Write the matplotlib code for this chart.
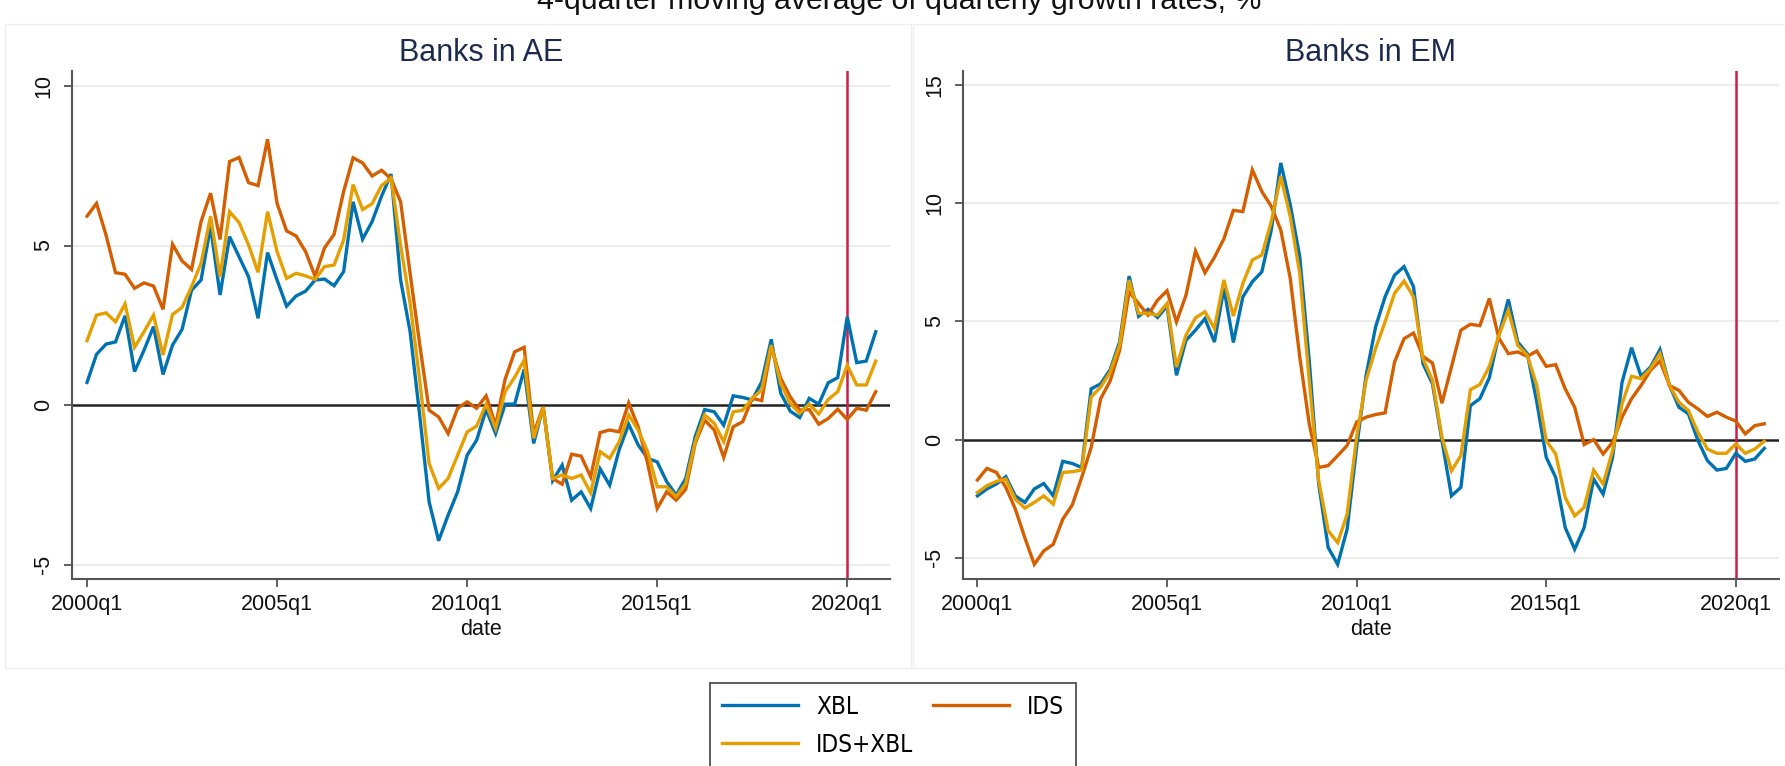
import numpy as np
import pandas as pd
import matplotlib
matplotlib.use("Agg")
import matplotlib.pyplot as plt
from matplotlib.lines import Line2D
from matplotlib.patches import Rectangle
from matplotlib.font_manager import FontProperties, fontManager

plt.rcParams["font.family"] = ["Liberation Sans", "DejaVu Sans"]

# ---------------------------------------------------------------- data
quarters = pd.period_range("2000Q1", "2020Q4", freq="Q")
quarter_names = [f"{p.year}q{p.quarter}" for p in quarters]
tick_labels = ["2000q1", "2005q1", "2010q1", "2015q1", "2020q1"]
marker_quarter = "2020q1"

series_names = ["XBL", "IDS", "IDS+XBL"]

# Banks in advanced economies (4-quarter moving average, %)
ae_xbl = [0.71, 1.59, 1.91, 1.98, 2.80, 1.05, 1.72, 2.46, 0.96, 1.88,
          2.37, 3.60, 3.92, 5.59, 3.45, 5.28, 4.65, 4.02, 2.72, 4.78,
          3.92, 3.10, 3.42, 3.57, 3.92, 3.95, 3.74, 4.18, 6.37, 5.20,
          5.75, 6.55, 7.24, 3.92, 2.30, -0.30, -3.03, -4.25, -3.45, -2.72,
          -1.57, -1.10, -0.14, -0.89, 0.03, 0.03, 1.12, -1.20, -0.05, -2.37,
          -1.88, -2.98, -2.72, -3.24, -2.00, -2.51, -1.40, -0.60, -1.25, -1.67,
          -1.78, -2.40, -2.82, -2.30, -0.99, -0.14, -0.21, -0.63, 0.29, 0.24,
          0.16, 0.73, 2.06, 0.37, -0.19, -0.39, 0.21, 0.03, 0.70, 0.86,
          2.77, 1.33, 1.38, 2.30]
ae_ids = [5.92, 6.32, 5.33, 4.15, 4.10, 3.66, 3.83, 3.73, 3.00, 5.04,
          4.52, 4.25, 5.75, 6.64, 5.19, 7.63, 7.76, 6.97, 6.88, 8.33,
          6.32, 5.46, 5.30, 4.81, 4.04, 4.93, 5.35, 6.69, 7.75, 7.59,
          7.18, 7.36, 7.09, 6.37, 4.13, 1.93, -0.16, -0.37, -0.89, -0.10,
          0.10, -0.10, 0.29, -0.63, 0.81, 1.67, 1.81, -0.89, -0.05, -2.30,
          -2.48, -1.54, -1.60, -2.25, -0.86, -0.78, -0.84, 0.07, -0.68, -1.83,
          -3.24, -2.72, -2.98, -2.64, -1.20, -0.47, -0.78, -1.64, -0.68, -0.52,
          0.21, 0.14, 1.83, 0.84, 0.26, -0.16, -0.14, -0.60, -0.42, -0.13,
          -0.45, -0.10, -0.16, 0.42]
ae_total = [2.02, 2.82, 2.89, 2.61, 3.17, 1.81, 2.30, 2.82, 1.57, 2.84,
            3.06, 3.71, 4.44, 5.92, 4.02, 6.06, 5.72, 5.02, 4.16, 6.06,
            4.81, 3.97, 4.13, 4.05, 3.94, 4.34, 4.39, 5.17, 6.91, 6.13,
            6.31, 6.88, 7.12, 5.00, 3.19, 0.80, -1.83, -2.61, -2.30, -1.57,
            -0.84, -0.66, 0.03, -0.73, 0.42, 0.87, 1.41, -1.04, -0.07, -2.30,
            -2.19, -2.30, -2.19, -2.75, -1.46, -1.67, -1.15, -0.31, -0.78, -1.46,
            -2.56, -2.56, -2.87, -2.46, -1.15, -0.31, -0.57, -1.15, -0.21, -0.16,
            0.21, 0.47, 1.88, 0.68, 0.05, -0.26, 0.03, -0.28, 0.18, 0.42,
            1.25, 0.63, 0.63, 1.38]

# Banks in emerging markets (4-quarter moving average, %)
em_xbl = [-2.38, -2.09, -1.88, -1.57, -2.38, -2.66, -2.09, -1.86, -2.38, -0.92,
          -1.01, -1.18, 2.15, 2.36, 2.96, 4.13, 6.92, 5.22, 5.51, 5.17,
          5.65, 2.72, 4.20, 4.63, 5.12, 4.13, 6.40, 4.11, 6.04, 6.68,
          7.10, 8.87, 11.71, 9.94, 7.74, 3.35, -1.88, -4.57, -5.28, -3.79,
          -0.33, 2.72, 4.77, 6.04, 6.96, 7.32, 6.47, 3.21, 2.36, -0.04,
          -2.38, -2.02, 1.44, 1.73, 2.62, 4.42, 5.93, 4.13, 3.64, 1.60,
          -0.75, -1.60, -3.72, -4.64, -3.72, -1.67, -2.31, -0.75, 2.43, 3.89,
          2.68, 3.07, 3.81, 2.29, 1.37, 1.09, -0.04, -0.89, -1.29, -1.22,
          -0.58, -0.92, -0.82, -0.37]
em_ids = [-1.71, -1.22, -1.39, -2.02, -2.94, -4.15, -5.28, -4.71, -4.43, -3.37,
          -2.77, -1.60, -0.33, 1.73, 2.48, 3.78, 6.25, 5.76, 5.27, 5.90,
          6.30, 4.98, 6.11, 7.98, 7.06, 7.71, 8.50, 9.70, 9.65, 11.42,
          10.50, 9.87, 8.87, 6.82, 3.50, 0.67, -1.18, -1.10, -0.68, -0.25,
          0.74, 0.95, 1.06, 1.13, 3.28, 4.27, 4.51, 3.52, 3.24, 1.54,
          3.07, 4.63, 4.88, 4.82, 5.97, 4.30, 3.64, 3.71, 3.52, 3.75,
          3.10, 3.17, 2.15, 1.37, -0.21, 0.00, -0.61, -0.11, 0.95, 1.73,
          2.29, 2.93, 3.33, 2.29, 2.08, 1.58, 1.30, 0.98, 1.16, 0.95,
          0.78, 0.24, 0.59, 0.67]
em_total = [-2.24, -1.95, -1.77, -1.67, -2.52, -2.90, -2.66, -2.38, -2.73, -1.39,
            -1.36, -1.29, 1.80, 2.22, 2.86, 3.99, 6.75, 5.34, 5.34, 5.27,
            5.76, 3.07, 4.42, 5.15, 5.41, 4.70, 6.76, 5.23, 6.61, 7.60,
            7.81, 9.23, 11.14, 9.44, 7.03, 2.51, -1.74, -3.86, -4.36, -3.16,
            0.10, 2.51, 3.85, 4.98, 6.19, 6.71, 6.04, 3.43, 2.51, 0.10,
            -1.32, -0.68, 2.11, 2.33, 3.10, 4.40, 5.48, 3.99, 3.57, 2.29,
            -0.04, -0.61, -2.45, -3.23, -2.87, -1.29, -1.88, -0.47, 1.52, 2.68,
            2.58, 3.00, 3.64, 2.29, 1.58, 1.23, 0.31, -0.40, -0.58, -0.58,
            -0.18, -0.58, -0.40, -0.07]

# ---------------------------------------------------------------- style
colors = {"XBL": "#0072B2", "IDS": "#D55E00", "IDS+XBL": "#E69F00"}
title_color = "#1c2a50"
axis_color = "#555555"
grid_color = "#ebebeb"
vline_color = "#cc1f48"

W, H = 1785, 766
fig = plt.figure(figsize=(W / 100, H / 100), dpi=100)
fig.patch.set_facecolor("white")


def px_box(x0, x1, top, bottom):
    return [x0 / W, 1 - bottom / H, (x1 - x0) / W, (bottom - top) / H]


# faint outlines of the two graph regions
for (rx0, rx1) in [(5, 911), (913, 1800)]:
    fig.patches.append(Rectangle((rx0 / W, 1 - 668 / H), (rx1 - rx0) / W,
                                 (668 - 24) / H, transform=fig.transFigure,
                                 fill=False, edgecolor="#eeeeee", lw=1.0))

t = np.arange(len(quarters))
pos = {name: i for i, name in enumerate(quarter_names)}

panels = [
    dict(title="Banks in AE", box=px_box(72, 890, 71, 579),
         xlim=(-1.58, 84.5), ylim=(-5.45, 10.47), yticks=[-5, 0, 5, 10],
         data=[ae_xbl, ae_ids, ae_total]),
    dict(title="Banks in EM", box=px_box(963, 1778.5, 71, 579),
         xlim=(-1.52, 84.5), ylim=(-5.90, 15.6), yticks=[-5, 0, 5, 10, 15],
         data=[em_xbl, em_ids, em_total]),
]

for p in panels:
    ax = fig.add_axes(p["box"])
    ax.set_facecolor("white")
    for yv in p["yticks"]:
        if yv != 0:
            ax.axhline(yv, color=grid_color, lw=1.3, zorder=0)
    ax.axhline(0, color="#222222", lw=1.8, zorder=1)
    ax.axvline(pos[marker_quarter], color=vline_color, lw=1.8, zorder=1)
    for name, vals in zip(series_names, p["data"]):
        ax.plot(t, vals, color=colors[name], lw=2.4, zorder=3,
                solid_joinstyle="miter", label=name)
    ax.set_xlim(*p["xlim"])
    ax.set_ylim(*p["ylim"])
    ax.set_xticks([pos[s] for s in tick_labels])
    ax.set_xticklabels(tick_labels)
    ax.set_yticks(p["yticks"])
    ax.set_yticklabels([str(v) for v in p["yticks"]], rotation=90,
                       va="center")
    for side in ("top", "right"):
        ax.spines[side].set_visible(False)
    for side in ("left", "bottom"):
        ax.spines[side].set_color(axis_color)
        ax.spines[side].set_linewidth(1.5)
    ax.tick_params(axis="both", direction="out", length=6, width=1.3,
                   color=axis_color, labelsize=15.5, labelcolor="#111111")
    ax.tick_params(axis="x", pad=5)
    ax.tick_params(axis="y", pad=7)
    ax.set_xlabel("date", fontsize=15.5, color="#111111", labelpad=3)
    ax.set_title(p["title"], fontsize=22, color=title_color, pad=7)

fig.text(899 / W, 1 - 9 / H,
         "4-quarter moving average of quarterly growth rates, %",
         ha="center", va="baseline", fontsize=21.8, color="#111111")

# ---------------------------------------------------------------- legend
# a condensed sans face for the key, if one is installed
narrow_file = None
for entry in fontManager.ttflist:
    label = entry.name.lower()
    if (("condensed" in label or "narrow" in label
         or entry.stretch in ("condensed", "semi-condensed"))
            and entry.style == "normal" and entry.weight in (400, "normal", "regular")):
        narrow_file = entry.fname
        break
if narrow_file:
    legend_prop = FontProperties(fname=narrow_file, size=17.5)
else:
    legend_prop = FontProperties(family=["Liberation Sans", "DejaVu Sans"], size=16.5)

fpx = legend_prop.get_size_in_points() * 100 / 72
renderer = fig.canvas.get_renderer()
probe = fig.text(0, 0, "IDS+XBL", fontproperties=legend_prop)
bb = probe.get_window_extent(renderer)
probe.remove()
text_w, row_h = bb.width, bb.height

handles = [Line2D([], [], color=colors[n], lw=2.4) for n in series_names]
leg = fig.legend([handles[0], handles[2], handles[1]],
                 ["XBL", "IDS+XBL", "IDS"],
                 ncol=2, loc="upper center",
                 bbox_to_anchor=(893 / W, 1 - 683 / H),
                 prop=legend_prop, frameon=True, fancybox=False,
                 borderpad=max(9.5, 24 - row_h / 2) / fpx,
                 handlelength=76 / fpx, handletextpad=18 / fpx,
                 columnspacing=max(10, 117 - text_w) / fpx,
                 labelspacing=max(2, 38 - row_h) / fpx, borderaxespad=0)
leg.get_frame().set_edgecolor("#333333")
leg.get_frame().set_linewidth(1.4)

fig.savefig("out.png", dpi=100)
